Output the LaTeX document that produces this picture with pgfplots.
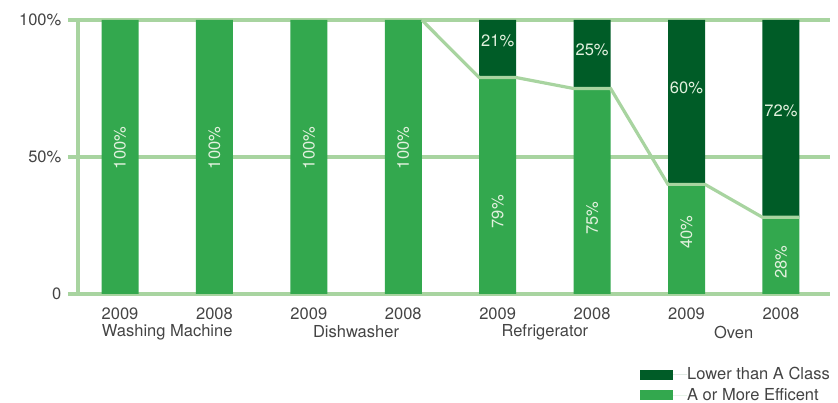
\documentclass[border=0pt]{standalone}
\usepackage{fontspec}
\setmainfont{TeX Gyre Heros}
\usepackage{pgfplots}
\pgfplotsset{compat=1.18}

\definecolor{lightbar}{HTML}{33A84E}
\definecolor{darkbar}{HTML}{005C27}
\definecolor{gridgreen}{HTML}{A8D4A0}
\definecolor{labeltext}{HTML}{E2F1DE}
\definecolor{ticktext}{HTML}{444444}

\newcommand\chartfont{\fontsize{16.5}{19}\selectfont}

\pgfplotsset{
    frame/.style={
        at={(0,0)}, anchor=south west,
        scale only axis,
        width=752pt, height=274pt,
        xmin=-0.445, xmax=7.52,
        ymin=0, ymax=100,
        clip=false,
    }
}

\begin{document}
\begin{tikzpicture}
\chartfont
\path[use as bounding box] (-78pt,-109pt) rectangle (760pt,294pt);
\begin{axis}[
    frame,
    ybar stacked,
    bar width=37pt,
    axis x line=bottom, axis y line=left,
    axis line style={gridgreen, line width=3.2pt, -},
    xtick={0,...,7},
    xticklabels={2009,2008,2009,2008,2009,2008,2009,2008},
    x tick style={draw=none},
    ytick={0,50,100},
    yticklabels={0,50\%,100\%},
    y tick style={gridgreen, line width=3.2pt},
    tick align=outside,
    major tick length=10pt,
    ymajorgrids,
    grid style={gridgreen, line width=3.2pt},
    tick label style={font=\chartfont, text=ticktext},
    xticklabel style={yshift=2pt},
    yticklabel style={xshift=-1pt},
    legend style={at={(1,0)}, anchor=north east, yshift=-73pt, draw=none,
        font=\chartfont, text=ticktext,
        row sep=6pt, inner sep=0pt,
        nodes={inner ysep=0pt, inner xsep=0pt},
        legend cell align=left},
    reverse legend,
    legend image code/.code={\fill[#1] (0pt,-5pt) rectangle (33pt,5pt);
        \path (33pt,0pt) -- (47pt,0pt);},
]
\addplot[fill=lightbar, draw=none] coordinates {
    (0,100) (1,100) (2,100) (3,100) (4,79) (5,75) (6,40) (7,28)
};
\addlegendentry{A or More Efficent}
\addplot[fill=darkbar, draw=none] coordinates {
    (0,0) (1,0) (2,0) (3,0) (4,21) (5,25) (6,60) (7,72)
};
\addlegendentry{Lower than A Class}

% category labels
\node[text=ticktext] at ([yshift=-38pt]axis cs:0.5,0) {Washing Machine};
\node[text=ticktext] at ([yshift=-38pt]axis cs:2.5,0) {Dishwasher};
\node[text=ticktext] at ([yshift=-38pt]axis cs:4.5,0) {Refrigerator};
\node[text=ticktext] at ([yshift=-38pt]axis cs:6.5,0) {Oven};
\end{axis}

% share line and value labels on top of the bars
\begin{axis}[frame, hide axis]
\addplot[sharp plot, gridgreen, line width=3.2pt] coordinates {
    (3.196,100) (3.804,79) (4.196,79) (4.804,75) (5.196,75)
    (5.804,40) (6.196,40) (6.804,28) (7.196,28)
};
\node[rotate=90, text=labeltext] at (axis cs:0,53.3) {100\%};
\node[rotate=90, text=labeltext] at (axis cs:1,53.3) {100\%};
\node[rotate=90, text=labeltext] at (axis cs:2,53.3) {100\%};
\node[rotate=90, text=labeltext] at (axis cs:3,53.3) {100\%};
\node[rotate=90, text=labeltext] at (axis cs:4,30) {79\%};
\node[rotate=90, text=labeltext] at (axis cs:5,27.7) {75\%};
\node[rotate=90, text=labeltext] at (axis cs:6,22.6) {40\%};
\node[rotate=90, text=labeltext] at (axis cs:7,11.7) {28\%};
\node[text=labeltext] at (axis cs:4,92.3) {21\%};
\node[text=labeltext] at (axis cs:5,89) {25\%};
\node[text=labeltext] at (axis cs:6,75.2) {60\%};
\node[text=labeltext] at (axis cs:7,66.8) {72\%};
\end{axis}
\end{tikzpicture}
\end{document}
